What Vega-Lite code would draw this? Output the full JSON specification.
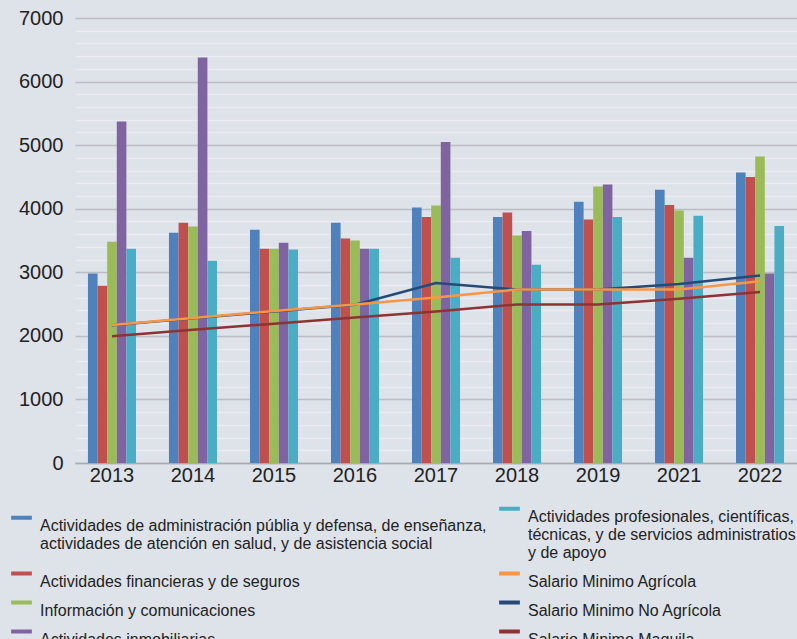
{
  "$schema": "https://vega.github.io/schema/vega-lite/v6.json",
  "width": 722,
  "height": 445,
  "autosize": {"type": "none"},
  "padding": {"left": 75, "top": 18, "right": 0, "bottom": 176},
  "background": "#dee2e9",
  "config": {"view": {"stroke": null}, "font": "Liberation Sans"},
  "datasets": {
    "bars": [
      {"year": "2013", "series": "Actividades de administración públia y defensa, de enseñanza,\nactividades de atención en salud, y de asistencia social", "value": 2980},
      {"year": "2013", "series": "Actividades financieras y de seguros", "value": 2790},
      {"year": "2013", "series": "Información y comunicaciones", "value": 3480},
      {"year": "2013", "series": "Actividades inmobiliarias", "value": 5370},
      {"year": "2013", "series": "Actividades profesionales, científicas,\ntécnicas, y de servicios administratios\n y de apoyo", "value": 3370},
      {"year": "2014", "series": "Actividades de administración públia y defensa, de enseñanza,\nactividades de atención en salud, y de asistencia social", "value": 3620},
      {"year": "2014", "series": "Actividades financieras y de seguros", "value": 3780},
      {"year": "2014", "series": "Información y comunicaciones", "value": 3720},
      {"year": "2014", "series": "Actividades inmobiliarias", "value": 6380},
      {"year": "2014", "series": "Actividades profesionales, científicas,\ntécnicas, y de servicios administratios\n y de apoyo", "value": 3180},
      {"year": "2015", "series": "Actividades de administración públia y defensa, de enseñanza,\nactividades de atención en salud, y de asistencia social", "value": 3670},
      {"year": "2015", "series": "Actividades financieras y de seguros", "value": 3370},
      {"year": "2015", "series": "Información y comunicaciones", "value": 3370},
      {"year": "2015", "series": "Actividades inmobiliarias", "value": 3465},
      {"year": "2015", "series": "Actividades profesionales, científicas,\ntécnicas, y de servicios administratios\n y de apoyo", "value": 3360},
      {"year": "2016", "series": "Actividades de administración públia y defensa, de enseñanza,\nactividades de atención en salud, y de asistencia social", "value": 3780},
      {"year": "2016", "series": "Actividades financieras y de seguros", "value": 3530},
      {"year": "2016", "series": "Información y comunicaciones", "value": 3500},
      {"year": "2016", "series": "Actividades inmobiliarias", "value": 3370},
      {"year": "2016", "series": "Actividades profesionales, científicas,\ntécnicas, y de servicios administratios\n y de apoyo", "value": 3370},
      {"year": "2017", "series": "Actividades de administración públia y defensa, de enseñanza,\nactividades de atención en salud, y de asistencia social", "value": 4020},
      {"year": "2017", "series": "Actividades financieras y de seguros", "value": 3870},
      {"year": "2017", "series": "Información y comunicaciones", "value": 4050},
      {"year": "2017", "series": "Actividades inmobiliarias", "value": 5050},
      {"year": "2017", "series": "Actividades profesionales, científicas,\ntécnicas, y de servicios administratios\n y de apoyo", "value": 3230},
      {"year": "2018", "series": "Actividades de administración públia y defensa, de enseñanza,\nactividades de atención en salud, y de asistencia social", "value": 3870},
      {"year": "2018", "series": "Actividades financieras y de seguros", "value": 3940},
      {"year": "2018", "series": "Información y comunicaciones", "value": 3580},
      {"year": "2018", "series": "Actividades inmobiliarias", "value": 3650},
      {"year": "2018", "series": "Actividades profesionales, científicas,\ntécnicas, y de servicios administratios\n y de apoyo", "value": 3120},
      {"year": "2019", "series": "Actividades de administración públia y defensa, de enseñanza,\nactividades de atención en salud, y de asistencia social", "value": 4110},
      {"year": "2019", "series": "Actividades financieras y de seguros", "value": 3830},
      {"year": "2019", "series": "Información y comunicaciones", "value": 4350},
      {"year": "2019", "series": "Actividades inmobiliarias", "value": 4380},
      {"year": "2019", "series": "Actividades profesionales, científicas,\ntécnicas, y de servicios administratios\n y de apoyo", "value": 3870},
      {"year": "2021", "series": "Actividades de administración públia y defensa, de enseñanza,\nactividades de atención en salud, y de asistencia social", "value": 4300},
      {"year": "2021", "series": "Actividades financieras y de seguros", "value": 4060},
      {"year": "2021", "series": "Información y comunicaciones", "value": 3970},
      {"year": "2021", "series": "Actividades inmobiliarias", "value": 3230},
      {"year": "2021", "series": "Actividades profesionales, científicas,\ntécnicas, y de servicios administratios\n y de apoyo", "value": 3890},
      {"year": "2022", "series": "Actividades de administración públia y defensa, de enseñanza,\nactividades de atención en salud, y de asistencia social", "value": 4570},
      {"year": "2022", "series": "Actividades financieras y de seguros", "value": 4500},
      {"year": "2022", "series": "Información y comunicaciones", "value": 4820},
      {"year": "2022", "series": "Actividades inmobiliarias", "value": 2980},
      {"year": "2022", "series": "Actividades profesionales, científicas,\ntécnicas, y de servicios administratios\n y de apoyo", "value": 3730}
    ],
    "lines": [
      {"year": "2013", "series": "Salario Minimo Agrícola", "value": 2170},
      {"year": "2014", "series": "Salario Minimo Agrícola", "value": 2280},
      {"year": "2015", "series": "Salario Minimo Agrícola", "value": 2390},
      {"year": "2016", "series": "Salario Minimo Agrícola", "value": 2495},
      {"year": "2017", "series": "Salario Minimo Agrícola", "value": 2605},
      {"year": "2018", "series": "Salario Minimo Agrícola", "value": 2730},
      {"year": "2019", "series": "Salario Minimo Agrícola", "value": 2730},
      {"year": "2021", "series": "Salario Minimo Agrícola", "value": 2730},
      {"year": "2022", "series": "Salario Minimo Agrícola", "value": 2860},
      {"year": "2013", "series": "Salario Minimo No Agrícola", "value": 2165},
      {"year": "2014", "series": "Salario Minimo No Agrícola", "value": 2275},
      {"year": "2015", "series": "Salario Minimo No Agrícola", "value": 2385},
      {"year": "2016", "series": "Salario Minimo No Agrícola", "value": 2490},
      {"year": "2017", "series": "Salario Minimo No Agrícola", "value": 2830},
      {"year": "2018", "series": "Salario Minimo No Agrícola", "value": 2730},
      {"year": "2019", "series": "Salario Minimo No Agrícola", "value": 2730},
      {"year": "2021", "series": "Salario Minimo No Agrícola", "value": 2815},
      {"year": "2022", "series": "Salario Minimo No Agrícola", "value": 2950},
      {"year": "2013", "series": "Salario Minimo Maquila", "value": 1995},
      {"year": "2014", "series": "Salario Minimo Maquila", "value": 2095},
      {"year": "2015", "series": "Salario Minimo Maquila", "value": 2190},
      {"year": "2016", "series": "Salario Minimo Maquila", "value": 2290},
      {"year": "2017", "series": "Salario Minimo Maquila", "value": 2385},
      {"year": "2018", "series": "Salario Minimo Maquila", "value": 2495},
      {"year": "2019", "series": "Salario Minimo Maquila", "value": 2495},
      {"year": "2021", "series": "Salario Minimo Maquila", "value": 2585},
      {"year": "2022", "series": "Salario Minimo Maquila", "value": 2690}
    ]
  },
  "encoding": {
    "x": {
      "field": "year", "type": "nominal",
      "scale": {"paddingInner": 0.407, "paddingOuter": 0.16},
      "axis": {"title": null, "ticks": false, "labelAngle": 0, "labelFontSize": 20, "labelColor": "#222222", "labelPadding": 2, "domainColor": "#a9abae", "domainWidth": 1.5, "grid": false}
    },
    "y": {
      "field": "value", "type": "quantitative",
      "scale": {"domain": [0, 7000], "nice": false},
      "axis": {
        "title": null, "ticks": false, "domain": false, "format": "d",
        "values": [0,200,400,600,800,1000,1200,1400,1600,1800,2000,2200,2400,2600,2800,3000,3200,3400,3600,3800,4000,4200,4400,4600,4800,5000,5200,5400,5600,5800,6000,6200,6400,6600,6800,7000],
        "labelExpr": "datum.value % 1000 === 0 ? datum.label : ''",
        "labelFontSize": 20, "labelColor": "#222222", "labelPadding": 12,
        "grid": true, "gridWidth": 1.5,
        "gridColor": {"condition": {"test": "datum.value % 1000 === 0", "value": "#babdc1"}, "value": "#e9ecf0"}
      }
    },
    "color": {
      "field": "series", "type": "nominal",
      "scale": {
        "domain": [
          "Actividades de administración públia y defensa, de enseñanza,\nactividades de atención en salud, y de asistencia social",
          "Actividades financieras y de seguros",
          "Información y comunicaciones",
          "Actividades inmobiliarias",
          "Actividades profesionales, científicas,\ntécnicas, y de servicios administratios\n y de apoyo",
          "Salario Minimo Agrícola",
          "Salario Minimo No Agrícola",
          "Salario Minimo Maquila"
        ],
        "range": ["#4f81bd", "#c0504d", "#9bbb59", "#8064a2", "#4bacc6", "#f79646", "#254a78", "#8e3333"]
      },
      "legend": {
        "title": null, "orient": "none", "legendX": -66, "legendY": 478,
        "columns": 2, "padding": 0,
        "symbolType": "stroke", "symbolSize": 430, "symbolStrokeWidth": 4,
        "labelFontSize": 16, "labelColor": "#222222", "labelFont": "Liberation Sans",
        "labelLimit": 0, "labelBaseline": "top", "labelOffset": 6,
        "columnPadding": 4, "rowPadding": -7,
        "labelExpr": "split(datum.label, '\\n')"
      }
    }
  },
  "layer": [
    {
      "data": {"name": "bars"},
      "mark": {"type": "bar"},
      "encoding": {
        "xOffset": {
          "field": "series", "type": "nominal",
          "scale": {"domain": [
            "Actividades de administración públia y defensa, de enseñanza,\nactividades de atención en salud, y de asistencia social",
            "Actividades financieras y de seguros",
            "Información y comunicaciones",
            "Actividades inmobiliarias",
            "Actividades profesionales, científicas,\ntécnicas, y de servicios administratios\n y de apoyo"
          ]}
        }
      }
    },
    {
      "data": {"name": "lines"},
      "transform": [{"filter": "datum.series === 'Salario Minimo No Agrícola'"}],
      "mark": {"type": "line", "strokeWidth": 2.5},
      "encoding": {}
    },
    {
      "data": {"name": "lines"},
      "transform": [{"filter": "datum.series === 'Salario Minimo Maquila'"}],
      "mark": {"type": "line", "strokeWidth": 2.5},
      "encoding": {}
    },
    {
      "data": {"name": "lines"},
      "transform": [{"filter": "datum.series === 'Salario Minimo Agrícola'"}],
      "mark": {"type": "line", "strokeWidth": 2.5},
      "encoding": {}
    }
  ]
}
